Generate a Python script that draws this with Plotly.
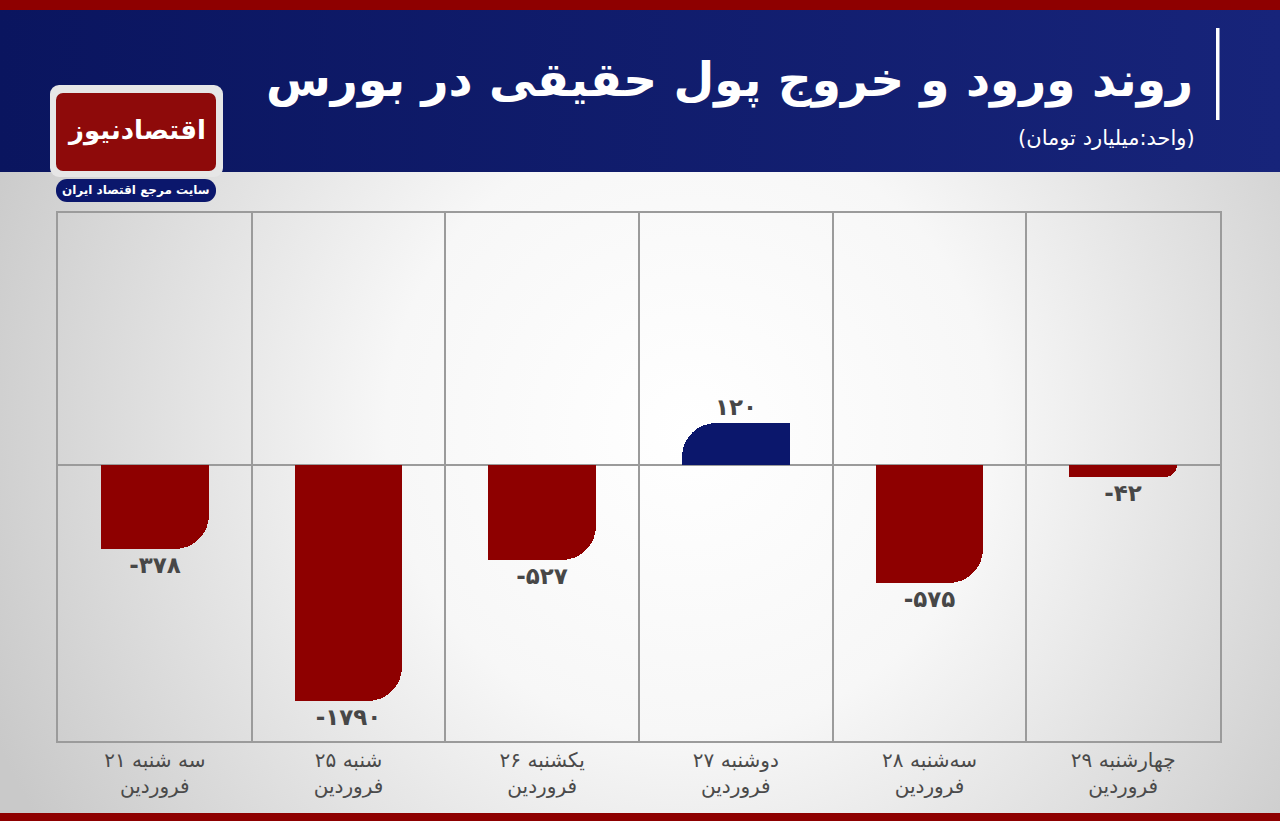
import base64
import plotly.graph_objects as go

# ---------------- data ----------------
categories = [
    "سه شنبه ۲۱<br>فروردین",
    "شنبه ۲۵<br>فروردین",
    "یکشنبه ۲۶<br>فروردین",
    "دوشنبه ۲۷<br>فروردین",
    "سه‌شنبه ۲۸<br>فروردین",
    "چهارشنبه ۲۹<br>فروردین",
]
values = [-378, -1790, -527, 120, -575, -42]          # billion toman (labels)
# bar lengths as drawn in the reference (not proportional to the values)
bar_lengths = [-84, -236, -95, 42, -118, -12]

title_text = "روند ورود و خروج پول حقیقی در بورس"
subtitle_text = "(واحد:میلیارد تومان)"
logo_text = "اقتصادنیوز"
logo_sub = "سایت مرجع اقتصاد ایران"

RED = "#8e0000"
NAVY = "#0b176c"
FONT = "DejaVu Sans"

fa_digits = str.maketrans("0123456789", "۰۱۲۳۴۵۶۷۸۹")
labels = [(("-" if v < 0 else "") + str(abs(v))).translate(fa_digits) for v in values]
colors = [RED if v < 0 else NAVY for v in values]

# ---------------- geometry ----------------
FW, FH = 1280, 821
L, R, T, B = 58, 1220, 213, 741
W, H = R - L, B - T


def px(x):
    return (x - L) / W


def py(y):
    return (B - y) / H


BAR_W = 0.555

fig = go.Figure()
fig.add_trace(go.Bar(
    x=categories, y=bar_lengths, width=BAR_W,
    marker=dict(color=colors, line=dict(width=0), cornerradius=34),
    text=labels, textposition="outside", cliponaxis=False,
    textfont=dict(family=FONT, size=23, color="#474747", weight="bold"),
    hoverinfo="skip", showlegend=False,
))
# square half to leave only one rounded corner
fig.add_trace(go.Bar(
    x=categories, y=bar_lengths, width=BAR_W / 2,
    offset=[-BAR_W / 2 if v < 0 else 0 for v in values],
    marker=dict(color=colors, line=dict(width=0)),
    hoverinfo="skip", showlegend=False,
))

# ---------------- background svg ----------------
svg = f'''<svg xmlns="http://www.w3.org/2000/svg" width="{FW}" height="{FH}" viewBox="0 0 {FW} {FH}">
<defs>
<radialGradient id="g" gradientUnits="userSpaceOnUse" cx="690" cy="430" r="760">
<stop offset="0" stop-color="#ffffff"/>
<stop offset="0.4" stop-color="#f7f7f7"/>
<stop offset="1" stop-color="#c9c9c9"/>
</radialGradient>
<linearGradient id="n" x1="0" x2="1" y1="0" y2="0">
<stop offset="0" stop-color="#0a155f"/>
<stop offset="1" stop-color="#17247a"/>
</linearGradient>
</defs>
<rect x="0" y="0" width="{FW}" height="{FH}" fill="url(#g)"/>
<rect x="0" y="10" width="{FW}" height="162" fill="url(#n)"/>
<rect x="0" y="0" width="{FW}" height="10" fill="#8e0000"/>
<rect x="0" y="813" width="{FW}" height="8" fill="#8e0000"/>
<rect x="1216" y="28" width="3.5" height="92" fill="#ffffff"/>
<rect x="50" y="85" width="173" height="92" rx="9" fill="#e6e6e6"/>
<rect x="56" y="93" width="160" height="78" rx="7" fill="#8e0a0a"/>
<rect x="56" y="179" width="160" height="23" rx="11" fill="#0b176c"/>
</svg>'''
src = "data:image/svg+xml;base64," + base64.b64encode(svg.encode("utf-8")).decode()

fig.add_layout_image(dict(
    source=src, xref="paper", yref="paper",
    x=px(0), y=py(0), sizex=FW / W, sizey=FH / H,
    xanchor="left", yanchor="top", sizing="stretch", layer="below",
))

# ---------------- text ----------------
ann = [
    dict(text=title_text, x=px(1195), y=py(80), xanchor="right", yanchor="middle",
         font=dict(family=FONT, size=47, color="white", weight="bold")),
    dict(text=subtitle_text, x=px(1197), y=py(138), xanchor="right", yanchor="middle",
         font=dict(family=FONT, size=21, color="white")),
    dict(text=logo_text, x=px(136), y=py(130), xanchor="center", yanchor="middle",
         font=dict(family=FONT, size=26, color="white", weight="bold")),
    dict(text=logo_sub, x=px(136), y=py(190), xanchor="center", yanchor="middle",
         font=dict(family=FONT, size=12, color="white", weight="bold")),
]
for a in ann:
    a.update(xref="paper", yref="paper", showarrow=False)
fig.update_layout(annotations=ann)

fig.update_layout(
    width=FW, height=FH,
    margin=dict(l=L, r=FW - R, t=T, b=FH - B, pad=0),
    paper_bgcolor="#e9e9e9", plot_bgcolor="rgba(0,0,0,0)",
    barmode="overlay", bargap=0,
    font=dict(family=FONT),
)
fig.update_xaxes(
    type="category", tickson="boundaries", showgrid=True, gridcolor="#9b9b9b", gridwidth=1.5,
    showline=True, mirror=True, linecolor="#9b9b9b", linewidth=1.5,
    ticks="", ticklen=0,
    tickfont=dict(family=FONT, size=20, color="#4a4a4a"),
)
fig.update_yaxes(
    range=[-(B - 465), 465 - T], showgrid=False, showticklabels=False,
    zeroline=True, zerolinecolor="#9b9b9b", zerolinewidth=1.5,
    showline=True, mirror=True, linecolor="#9b9b9b", linewidth=1.5, ticks="",
)

fig.write_html(
    "out.html",
    config={"displayModeBar": False},
    post_script="document.body.style.margin='0';document.body.style.overflow='hidden';",
)
